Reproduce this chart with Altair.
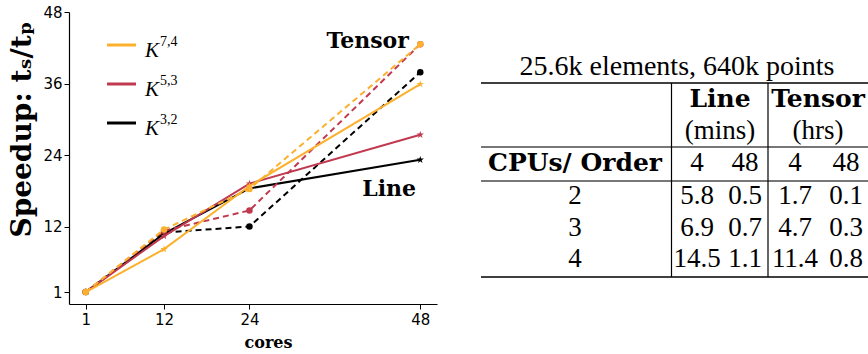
import altair as alt
import pandas as pd

# ---- speedup data (t_serial / t_parallel) ----
cores = [1, 12, 24, 48]
orders = ["K74", "K53", "K32"]
order_sup = ["7,4", "5,3", "3,2"]
colors = ["#FBB12E", "#C1394F", "#000000"]

line_k74 = [1, 8.2, 18.8, 35.9]
line_k53 = [1, 10.4, 19.2, 27.4]
line_k32 = [1, 10.8, 18.4, 23.2]
tensor_k74 = [1, 11.5, 18.3, 42.6]
tensor_k53 = [1, 11.3, 14.7, 42.6]
tensor_k32 = [1, 11.0, 12.0, 37.9]

# ---- timing table ----
table_title = "25.6k elements, 640k points"
methods = ["Line", "Tensor"]
method_units = ["(mins)", "(hrs)"]
cpu_counts = ["4", "48"]
poly_orders = ["2", "3", "4"]
line_mins_4 = ["5.8", "6.9", "14.5"]
line_mins_48 = ["0.5", "0.7", "1.1"]
tensor_hrs_4 = ["1.7", "4.7", "11.4"]
tensor_hrs_48 = ["0.1", "0.3", "0.8"]

SERIF = "Liberation Serif"
BOLD_SERIF = "DejaVu Serif"

series = {
    ("Line", "K74"): line_k74, ("Line", "K53"): line_k53, ("Line", "K32"): line_k32,
    ("Tensor", "K74"): tensor_k74, ("Tensor", "K53"): tensor_k53, ("Tensor", "K32"): tensor_k32,
}
rows = []
for (method, order), vals in series.items():
    for c, v in zip(cores, vals):
        rows.append({"method": method, "order": order, "cores": c, "speedup": v})
df = pd.DataFrame(rows)

W, H = 368, 292
PAD_L, PAD_T = 69, 12

color = alt.Color("order:N", scale=alt.Scale(domain=orders, range=colors), legend=None)
xs = alt.Scale(domain=[-1.35, 50.35], nice=False, zero=False)
ys = alt.Scale(domain=[-1, 48], nice=False, zero=False)

x_enc = alt.X("cores:Q", scale=xs, axis=alt.Axis(
    values=cores, title="cores", titleFont=BOLD_SERIF, titleFontWeight="bold",
    titleFontSize=16, titleX=199, titleY=38, titleBaseline="middle",
    labelFont="DejaVu Sans", labelFontSize=15, labelColor="black", labelPadding=3,
    tickSize=5, tickColor="black", domainColor="black", domainWidth=1.2, grid=False))
y_enc = alt.Y("speedup:Q", scale=ys, axis=alt.Axis(
    values=[1, 12, 24, 36, 48], title="Speedup: tₛ/tₚ", titleFont=BOLD_SERIF,
    titleFontWeight="bold", titleFontSize=28, titleAngle=270, titleX=-47, titleY=117,
    titleAlign="center", titleBaseline="middle",
    labelFont="DejaVu Sans", labelFontSize=15, labelColor="black", labelPadding=2,
    tickSize=5, tickColor="black", domainColor="black", domainWidth=1.2, grid=False))

STAR = ("M0,-1L0.2245,-0.309L0.9511,-0.309L0.3633,0.118L0.5878,0.809L0,0.382"
        "L-0.5878,0.809L-0.3633,0.118L-0.9511,-0.309L-0.2245,-0.309Z")

base = alt.Chart(df).encode(x=x_enc, y=y_enc, color=color)
plot_layers = []
for order in reversed(orders):
    sub = base.transform_filter(alt.datum.order == order)
    line_part = sub.transform_filter(alt.datum.method == "Line")
    tensor_part = sub.transform_filter(alt.datum.method == "Tensor")
    plot_layers += [
        line_part.mark_line(strokeWidth=2),
        line_part.mark_point(shape=STAR, filled=True, size=60, opacity=1),
        tensor_part.mark_line(strokeWidth=2, strokeDash=[6, 4]),
        tensor_part.mark_point(shape="circle", filled=True, size=42, opacity=1),
    ]

notes = pd.DataFrame({"label": ["Tensor", "Line"], "cores": [46.4, 47.4], "speedup": [42.0, 17.1]})
note_layer = alt.Chart(notes).mark_text(
    font=BOLD_SERIF, fontWeight="bold", fontSize=22, align="right", baseline="alphabetic",
    color="black").encode(x=alt.X("cores:Q", scale=xs), y=alt.Y("speedup:Q", scale=ys), text="label:N")

plot = alt.layer(*plot_layers, note_layer)

# ---- legend drawn as lines with K^{a,b} labels ----
leg = pd.DataFrame({"order": orders, "base": ["K"] * 3, "sup": order_sup})
leg_y = alt.Y("order:N", scale=alt.Scale(type="point", domain=orders, range=[33, 111], padding=0), axis=None)
legend = alt.layer(
    alt.Chart(leg).mark_rule(strokeWidth=3).encode(
        y=leg_y, x=alt.value(38), x2=alt.value(67), color=color),
    alt.Chart(leg).mark_text(font=SERIF, fontStyle="italic", fontSize=21,
                             align="left", baseline="alphabetic", dy=12, color="black").encode(
        y=leg_y, x=alt.value(76), text="base:N"),
    alt.Chart(leg).mark_text(font=SERIF, fontSize=14, align="left",
                             baseline="alphabetic", dy=1, color="black").encode(
        y=leg_y, x=alt.value(91), text="sup:N"),
)

# ---- table, placed in page coordinates ----
tx = alt.Scale(domain=[PAD_L, PAD_L + W], range=[0, W], nice=False, zero=False)
ty = alt.Scale(domain=[PAD_T, PAD_T + H], range=[0, H], nice=False, zero=False)

COL_LABEL = 575
COL_NUM = [697, 745, 795, 846]
COL_GROUP = [720, 818]
Y_TITLE, Y_HEAD, Y_UNIT, Y_CPU = 75, 107, 139, 171
Y_ROWS = [204, 236, 267]

title_txt = [{"t": table_title, "px": 677, "py": Y_TITLE}]
normal_txt = []
bold_txt = [{"t": "CPUs/ Order", "px": COL_LABEL, "py": Y_CPU}]
for m, u, cx in zip(methods, method_units, COL_GROUP):
    bold_txt.append({"t": m, "px": cx, "py": Y_HEAD})
    normal_txt.append({"t": u, "px": cx, "py": Y_UNIT})
for c, cx in zip(cpu_counts * 2, COL_NUM):
    normal_txt.append({"t": c, "px": cx, "py": Y_CPU})
cols = [line_mins_4, line_mins_48, tensor_hrs_4, tensor_hrs_48]
for i, (o, ry) in enumerate(zip(poly_orders, Y_ROWS)):
    normal_txt.append({"t": o, "px": COL_LABEL, "py": ry})
    for col, cx in zip(cols, COL_NUM):
        normal_txt.append({"t": col[i], "px": cx, "py": ry})

hrules = pd.DataFrame({
    "px": [481] * 4, "px2": [872] * 4, "py": [83, 147, 181, 277],
    "c": ["black", "#777777", "#777777", "black"], "w": [1.5, 2.2, 2.2, 1.5]})
vrules = pd.DataFrame({"px": [671.5, 768], "py": [83, 83], "py2": [277, 277]})

tpos = dict(x=alt.X("px:Q", scale=tx, axis=None), y=alt.Y("py:Q", scale=ty, axis=None), text="t:N")
table = alt.layer(
    alt.Chart(pd.DataFrame(title_txt)).mark_text(
        font=SERIF, fontSize=28, align="center", baseline="alphabetic", color="black"
    ).encode(**tpos),
    alt.Chart(pd.DataFrame(normal_txt)).mark_text(
        font=SERIF, fontSize=27, align="center", baseline="alphabetic", color="black"
    ).encode(**tpos),
    alt.Chart(pd.DataFrame(bold_txt)).mark_text(
        font=BOLD_SERIF, fontWeight="bold", fontSize=25, align="center", baseline="alphabetic",
        color="black"
    ).encode(**tpos),
    alt.Chart(hrules).mark_rule().encode(
        x=alt.X("px:Q", scale=tx, axis=None), x2="px2:Q",
        y=alt.Y("py:Q", scale=ty, axis=None),
        color=alt.Color("c:N", scale=None), strokeWidth=alt.StrokeWidth("w:Q", scale=None)),
    alt.Chart(vrules).mark_rule(color="black", strokeWidth=1.2).encode(
        x=alt.X("px:Q", scale=tx, axis=None),
        y=alt.Y("py:Q", scale=ty, axis=None), y2="py2:Q"),
)

chart = alt.layer(plot, legend, table).resolve_scale(
    x="independent", y="independent", color="independent"
).properties(
    width=W, height=H,
    autosize=alt.AutoSizeParams(type="none"),
    padding={"left": PAD_L, "top": PAD_T, "right": 868 - PAD_L - W, "bottom": 354 - PAD_T - H},
    background="white",
).configure_view(stroke=None)

chart.save("out.html", embed_options={"renderer": "svg", "actions": False})
